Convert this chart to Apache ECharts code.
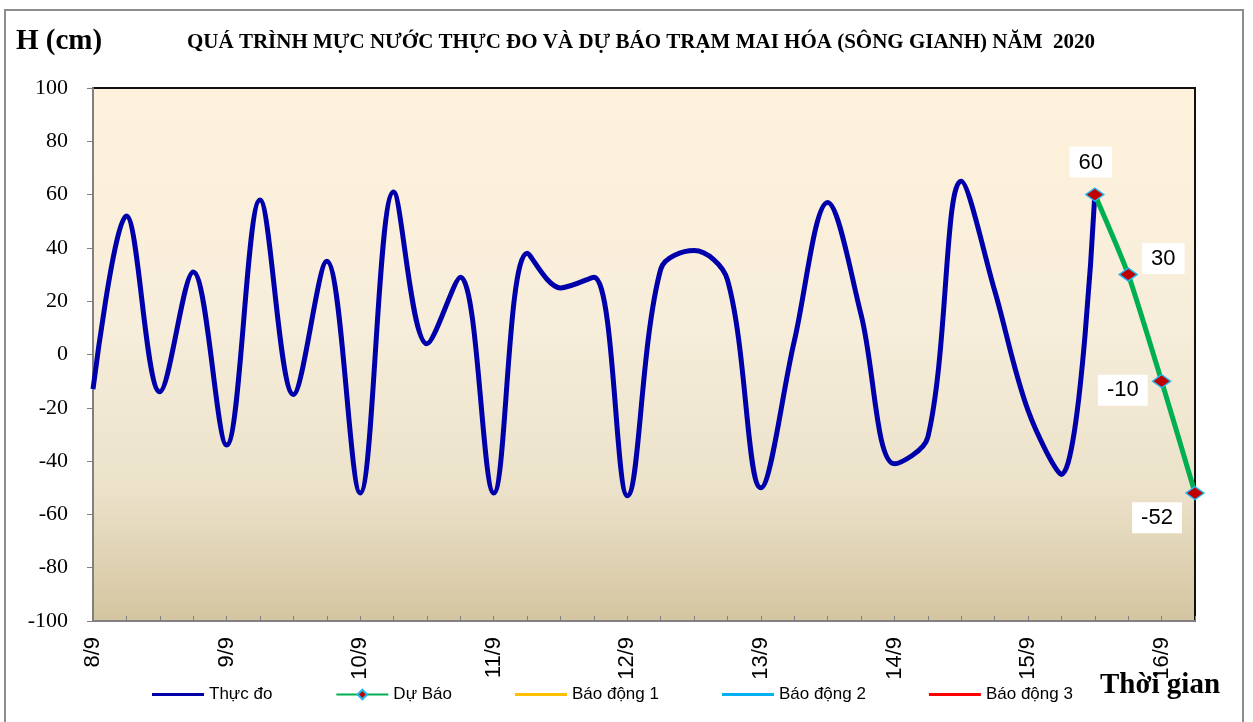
<!DOCTYPE html>
<html>
<head>
<meta charset="utf-8">
<script src="https://cdn.jsdelivr.net/npm/echarts@6/dist/echarts.min.js"></script>
<style>
  html, body { margin: 0; padding: 0; background: #fff; }
  #main { width: 1253px; height: 722px; }
</style>
</head>
<body>
<div id="main"></div>
<script>
// 6-hourly steps from 8/9 00h to 16/9 06h
var days = ['8/9', '9/9', '10/9', '11/9', '12/9', '13/9', '14/9', '15/9', '16/9'];
var hours = ['00', '06', '12', '18'];

// water level observed (cm)
var thucDo = [
  -13, 52, -14, 31,
  -34, 58, -15, 35,
  -52, 61, 4, 29,
  -52, 38, 25, 29,
  -53, 32, 39, 28,
  -50, 5, 57, 15,
  -41, -31, 65, 24,
  -21, -45, 60
];
// forecast (cm), starts at last observed point
var duBao = [60, 30, -10, -52];
var duBaoStart = 30;

// alarm levels are off this scale -> nothing drawn
var baoDong1 = [];
var baoDong2 = [];
var baoDong3 = [];

var yTicks = { min: -100, max: 100, step: 20 };

var categories = [];
for (var d = 0; d < days.length; d++) {
    for (var h = 0; h < hours.length; h++) {
        categories.push(days[d] + ' ' + hours[h]);
    }
}
categories = categories.slice(0, duBaoStart + duBao.length);

var obsData = categories.map(function (c, i) {
    return i < thucDo.length ? thucDo[i] : null;
});

var labelCfg = [
    { position: 'top', distance: 10, offset: [-4, 0] },
    { position: 'right', distance: 4, offset: [0, -16] },
    { position: 'left', distance: 4, offset: [0, 9] },
    { position: 'bottom', distance: 2, offset: [-38, 0] }
];
var fcData = categories.map(function (c, i) {
    var k = i - duBaoStart;
    if (k < 0) return null;
    return { value: duBao[k], label: labelCfg[k] };
});

var lineIcon = 'path://M0,0H52V3H0Z';

var myChart = echarts.init(document.getElementById('main'));

var option = {
    backgroundColor: '#fff',
    animation: false,
    title: {
        text: 'QUÁ TRÌNH MỰC NƯỚC THỰC ĐO VÀ DỰ BÁO TRẠM MAI HÓA (SÔNG GIANH) NĂM  2020',
        left: 636,
        textAlign: 'center',
        top: 27,
        textStyle: {
            fontFamily: 'Liberation Serif',
            fontWeight: 'bold',
            fontSize: 21,
            color: '#000'
        }
    },
    legend: {
        bottom: 14,
        left: 147,
        itemWidth: 52,
        itemHeight: 12,
        itemGap: 63,
        textStyle: { fontFamily: 'Liberation Sans', fontSize: 17, color: '#000' },
        data: [
            { name: 'Thực đo', icon: lineIcon },
            { name: 'Dự Báo' },
            { name: 'Báo động 1', icon: lineIcon },
            { name: 'Báo động 2', icon: lineIcon },
            { name: 'Báo động 3', icon: lineIcon }
        ]
    },
    grid: {
        left: 93,
        right: 58,
        top: 88,
        bottom: 101,
        show: true,
        borderColor: '#111',
        borderWidth: 2,
        backgroundColor: new echarts.graphic.LinearGradient(0, 0, 0, 1, [
            { offset: 0, color: '#fff2dc' },
            { offset: 0.45, color: '#f6edda' },
            { offset: 0.75, color: '#ece2ca' },
            { offset: 1, color: '#d4c5a0' }
        ])
    },
    xAxis: {
        type: 'category',
        boundaryGap: false,
        data: categories,
        axisLine: { onZero: false, lineStyle: { color: '#808080', width: 2 } },
        axisTick: { inside: true, length: 5, interval: 0, lineStyle: { color: '#808080' } },
        axisLabel: {
            interval: 3,
            rotate: 90,
            margin: 16,
            fontFamily: 'Liberation Sans',
            fontSize: 22,
            color: '#000',
            formatter: function (v) { return v.split(' ')[0]; }
        },
        splitLine: { show: false }
    },
    yAxis: {
        type: 'value',
        min: yTicks.min,
        max: yTicks.max,
        interval: yTicks.step,
        axisLine: { show: true, lineStyle: { color: '#808080', width: 2 } },
        axisTick: { show: true, length: 6, lineStyle: { color: '#808080' } },
        axisLabel: {
            margin: 25,
            fontFamily: 'Liberation Serif',
            fontSize: 22,
            color: '#000'
        },
        splitLine: { show: false }
    },
    series: [
        {
            name: 'Thực đo',
            type: 'line',
            smooth: 0.35,
            symbol: 'none',
            data: obsData,
            color: '#0000aa',
            lineStyle: { color: '#0000aa', width: 5 },
            z: 3
        },
        {
            name: 'Dự Báo',
            type: 'line',
            smooth: 0.2,
            symbol: 'diamond',
            symbolSize: [18, 13],
            data: fcData,
            color: '#00b050',
            lineStyle: { color: '#00b050', width: 5 },
            itemStyle: { color: '#c00000', borderColor: '#22b8ee', borderWidth: 1.5 },
            label: {
                show: true,
                fontFamily: 'Liberation Sans',
                fontSize: 22,
                color: '#000',
                backgroundColor: '#fff',
                padding: [5, 9, 4, 9]
            },
            z: 4
        },
        {
            name: 'Báo động 1', type: 'line', symbol: 'none', data: baoDong1,
            color: '#ffc000', lineStyle: { color: '#ffc000', width: 3 }
        },
        {
            name: 'Báo động 2', type: 'line', symbol: 'none', data: baoDong2,
            color: '#00b0f0', lineStyle: { color: '#00b0f0', width: 3 }
        },
        {
            name: 'Báo động 3', type: 'line', symbol: 'none', data: baoDong3,
            color: '#ff0000', lineStyle: { color: '#ff0000', width: 3 }
        }
    ],
    graphic: [
        {
            type: 'rect',
            z: 0,
            silent: true,
            shape: { x: 5, y: 10, width: 1238, height: 730 },
            style: { fill: null, stroke: '#8c8c8c', lineWidth: 2 }
        },
        {
            type: 'text',
            z: 100,
            left: 16,
            top: 27,
            style: {
                text: 'H (cm)',
                font: 'bold 29px "Liberation Serif"',
                fill: '#000'
            }
        },
        {
            type: 'text',
            z: 100,
            left: 1100,
            top: 671,
            style: {
                text: 'Thời gian',
                font: 'bold 29px "Liberation Serif"',
                fill: '#000'
            }
        }
    ]
};

myChart.setOption(option);
</script>
</body>
</html>
